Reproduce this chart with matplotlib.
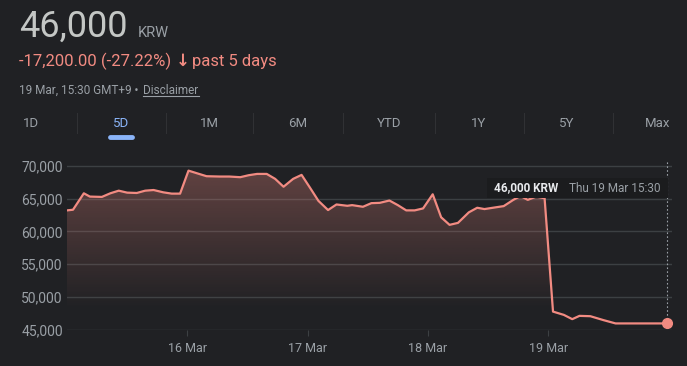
import numpy as np
import matplotlib
matplotlib.use('Agg')
import matplotlib.pyplot as plt
from matplotlib.patches import Rectangle, Polygon

plt.rcParams['font.family'] = ['Roboto', 'DejaVu Sans']

# trading time in "day" units (0 = 13 Mar open) and price in KRW
times = [0.00, 0.05, 0.14, 0.19, 0.29, 0.36, 0.43, 0.50, 0.58, 0.65, 0.72, 0.80, 0.87, 0.94,
         1.01, 1.08, 1.16, 1.27, 1.35, 1.44, 1.51, 1.58, 1.66, 1.73, 1.80, 1.88, 1.95,
         2.02, 2.09, 2.17, 2.24, 2.33, 2.37, 2.46, 2.53, 2.60, 2.68, 2.75, 2.82, 2.89, 2.96,
         3.04, 3.11, 3.18, 3.25, 3.34, 3.41, 3.47, 3.54, 3.63, 3.71, 3.77, 3.83, 3.90, 3.97,
         4.04, 4.13, 4.20, 4.26, 4.35, 4.46, 4.56, 4.99]
prices = [63200, 63300, 65800, 65300, 65250, 65800, 66200, 65900, 65850, 66200, 66300, 65950, 65750, 65750,
          69250, 68850, 68400, 68350, 68350, 68250, 68550, 68750, 68750, 68000, 66800, 68000, 68600,
          66650, 64650, 63250, 64100, 63900, 64000, 63750, 64300, 64350, 64700, 64000, 63200, 63200, 63500,
          65650, 62150, 61000, 61300, 62900, 63600, 63400, 63600, 63850, 64800, 65400, 64800, 65300, 65050,
          47800, 47300, 46650, 47150, 47100, 46500, 46000, 46000]
y_ticks = [45000, 50000, 55000, 60000, 65000, 70000]
day_ticks = [1, 2, 3, 4]
day_labels = ['16 Mar', '17 Mar', '18 Mar', '19 Mar']
tabs = ['1D', '5D', '1M', '6M', 'YTD', '1Y', '5Y', 'Max']

bg = '#202124'
red = '#f28b82'
grey = '#9aa0a6'
gridc = '#3c4043'

W, H = 687, 366
fig = plt.figure(figsize=(W / 100, H / 100), dpi=100, facecolor=bg)

def fx(px):
    return px / W

def fy(py):
    return 1 - py / H

# header
fig.text(fx(19), fy(37), '46,000', fontsize=26, color='#c4c7c5', va='baseline')
fig.text(fx(138), fy(37), 'KRW', fontsize=10.5, color=grey, va='baseline')
fig.text(fx(19), fy(66), '-17,200.00 (-27.22%)', fontsize=12, color=red, va='baseline')
fig.text(fx(182.5), fy(61), '\u2193', fontsize=12, fontweight='bold', color=red,
         ha='center', va='center', family='DejaVu Sans')
fig.text(fx(192), fy(66), 'past 5 days', fontsize=12, color=red, va='baseline')
fig.text(fx(19), fy(94), '19 Mar, 15:30 GMT+9 \u2022 ', fontsize=8.5, color=grey, va='baseline')
fig.text(fx(143), fy(94), 'Disclaimer', fontsize=8.5, color=grey, va='baseline')
fig.add_artist(plt.Line2D([fx(143), fx(199)], [fy(96), fy(96)], color=grey, lw=0.8))

# tabs
tab_x = [31, 121, 209, 298, 389, 479, 567, 658]
for lab, x in zip(tabs, tab_x):
    fig.text(fx(x), fy(124), lab, fontsize=9.5, color='#8ab4f8' if lab == '5D' else grey,
             ha='center', va='center')
for x in [76.7, 165.6, 253, 342.7, 434.7, 523.7, 612.6]:
    fig.add_artist(plt.Line2D([fx(x), fx(x)], [fy(113), fy(133)], color='#303134', lw=0.8))
fig.add_artist(plt.Line2D([fx(110), fx(132)], [fy(137), fy(137)], color='#8ab4f8', lw=3.5,
                          solid_capstyle='round'))

# chart axes
ax_left, ax_right, ax_top, ax_bot = 67, 672, 160, 330
ax = fig.add_axes([fx(ax_left), fy(ax_bot), (ax_right - ax_left) / W, (ax_bot - ax_top) / H])
ax.set_facecolor(bg)
xmax = (ax_right - ax_left) / 120.3
ymax = 70000 + (165.7 - ax_top) * 152.2
ax.set_xlim(0, xmax)
ax.set_ylim(45000, ymax)
for s in ax.spines.values():
    s.set_visible(False)

for v in y_ticks:
    ax.axhline(v, color=gridc, lw=1, zorder=1)
ax.set_yticks(y_ticks)
ax.set_yticklabels([f'{v:,}' for v in y_ticks])
ax.set_xticks(day_ticks)
ax.set_xticklabels(day_labels)
ax.tick_params(axis='y', length=0, pad=3, labelsize=10, labelcolor=grey)
ax.tick_params(axis='x', length=4, width=0.8, color=gridc, pad=5, labelsize=9, labelcolor=grey)

# gradient fill under the line
grad = np.linspace(0, 1, 256).reshape(-1, 1)
alpha = np.clip((grad * (ymax - 45000) + 45000 - 48000) / (70000 - 48000), 0, 1) * 0.32
rgba = np.zeros((256, 1, 4))
rgba[..., 0], rgba[..., 1], rgba[..., 2] = 242 / 255, 139 / 255, 130 / 255
rgba[..., 3] = alpha
img = ax.imshow(rgba, extent=[0, xmax, 45000, ymax], origin='lower', aspect='auto', zorder=2)
verts = list(zip(times, prices)) + [(times[-1], 45000), (times[0], 45000)]
clip = Polygon(verts, closed=True, transform=ax.transData, facecolor='none', edgecolor='none')
ax.add_patch(clip)
img.set_clip_path(clip)

ax.plot(times, prices, color=red, lw=1.6, zorder=3, solid_joinstyle='round')
ax.plot([times[-1], times[-1]], [prices[-1], ymax], color='#9aa0a6', lw=0.8, ls=(0, (1.5, 2)), zorder=2)
ax.plot(times[-1], prices[-1], 'o', color=red, ms=7, zorder=5, clip_on=False)

# tooltip
fig.add_artist(Rectangle((fx(487), fy(198)), (668 - 487) / W, 20 / H, facecolor='#1b1c1e',
                         edgecolor='none', zorder=6))
fig.text(fx(494), fy(188), '46,000 KRW', fontsize=8.5, fontweight='bold', color='#e8eaed',
         va='center', zorder=7)
fig.text(fx(569), fy(188), 'Thu 19 Mar 15:30', fontsize=8.5, color=grey, va='center', zorder=7)

fig.savefig('out.png', dpi=100, facecolor=bg)
